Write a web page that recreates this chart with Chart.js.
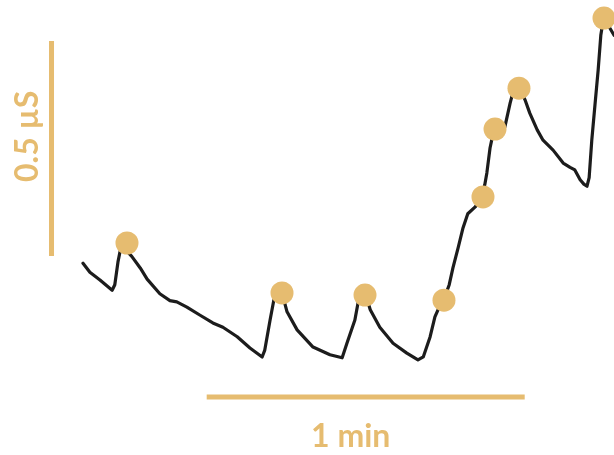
<!DOCTYPE html>
<html>
<head>
<meta charset="utf-8">
<script src="https://cdn.jsdelivr.net/npm/chart.js@4.4.1/dist/chart.umd.min.js"></script>
<style>
  html, body { margin: 0; padding: 0; background: #ffffff; }
  #wrap { width: 614px; height: 455px; }
</style>
</head>
<body>
<div id="wrap"><canvas id="scr" width="614" height="455"></canvas></div>
<script>
// Skin conductance trace: time (s) and conductance (µS)
const traceTime = [0.0, 1.3, 3.2, 5.5, 6.0, 6.6, 7.2, 7.7, 9.2, 10.8, 12.1, 14.5, 16.4, 17.7, 19.6, 22.1, 24.5, 26.4, 29.1, 31.5,
  33.8, 34.3, 35.3, 36.0, 36.8, 37.7, 38.5, 40.4, 43.4, 46.6, 48.9, 49.8, 51.3, 51.9, 52.6, 53.4, 54.2, 56.0, 58.5, 61.1,
  63.2, 64.2, 65.5, 66.4, 67.4, 68.1, 69.1, 69.8, 70.8, 71.7, 72.6, 74.0, 75.1, 75.8, 76.2, 76.8, 77.4, 77.9, 78.9, 79.6,
  80.6, 81.1, 81.9, 82.6, 83.4, 84.3, 85.7, 86.8, 88.7, 90.6, 91.9, 92.8, 93.8, 94.5, 95.1, 95.5, 96.0, 96.6, 97.2, 97.7,
  98.1, 98.7, 99.4, 100.2];
const traceUS = [2.446, 2.425, 2.407, 2.383, 2.396, 2.449, 2.486, 2.482, 2.462, 2.435, 2.409, 2.375, 2.359, 2.356, 2.344, 2.325, 2.307, 2.297, 2.275, 2.249,
  2.228, 2.244, 2.314, 2.360, 2.375, 2.370, 2.333, 2.291, 2.251, 2.233, 2.226, 2.260, 2.314, 2.354, 2.372, 2.370, 2.338, 2.297, 2.260, 2.237,
  2.221, 2.228, 2.275, 2.321, 2.349, 2.362, 2.396, 2.435, 2.483, 2.528, 2.561, 2.577, 2.593, 2.628, 2.656, 2.714, 2.749, 2.761, 2.756, 2.763,
  2.819, 2.842, 2.856, 2.849, 2.826, 2.795, 2.756, 2.732, 2.709, 2.679, 2.669, 2.663, 2.640, 2.630, 2.625, 2.645, 2.732, 2.814, 2.895, 2.976,
  3.007, 3.012, 2.993, 2.976];

// Detected response peaks
const peakTime = [8.3, 37.55, 53.21, 68.11, 75.47, 77.74, 82.26, 98.3];
const peakUS = [2.493, 2.377, 2.372, 2.360, 2.600, 2.758, 2.853, 3.016];

// Scale bars
const ampBarTime = [-5.94, -5.94];
const ampBarUS = [2.463, 2.963];
const timeBarTime = [23.34, 83.34];
const timeBarUS = [2.135, 2.135];
const ampLabel = '0.5 µS';
const timeLabel = '1 min';

const GOLD = '#E6BC70';

const toXY = (xs, ys) => xs.map((x, i) => ({ x: x, y: ys[i] }));

// Writes the scale-bar captions next to their bars
const scaleBarLabels = {
  id: 'scaleBarLabels',
  afterDatasetsDraw(chart) {
    const { ctx, scales: { x, y } } = chart;
    ctx.save();
    ctx.fillStyle = GOLD;
    ctx.font = 'bold 32px Lato, "Open Sans", sans-serif';
    ctx.textAlign = 'center';

    // vertical caption, reads bottom to top
    const ax = x.getPixelForValue(ampBarTime[0]);
    const ay = (y.getPixelForValue(ampBarUS[0]) + y.getPixelForValue(ampBarUS[1])) / 2;
    ctx.save();
    ctx.translate(ax - 14, ay - 12);
    ctx.rotate(-Math.PI / 2);
    ctx.textBaseline = 'alphabetic';
    ctx.fillText(ampLabel, 0, 0);
    ctx.restore();

    // horizontal caption under the time bar
    const tx = (x.getPixelForValue(timeBarTime[0]) + x.getPixelForValue(timeBarTime[1])) / 2;
    const ty = y.getPixelForValue(timeBarUS[0]);
    ctx.textBaseline = 'alphabetic';
    ctx.fillText(timeLabel, tx - 15, ty + 50);
    ctx.restore();
  }
};

new Chart(document.getElementById('scr'), {
  type: 'scatter',
  data: {
    datasets: [
      {
        label: 'peaks',
        data: toXY(peakTime, peakUS),
        pointRadius: 11.5,
        pointHoverRadius: 11.5,
        pointBackgroundColor: GOLD,
        pointBorderWidth: 0,
        showLine: false,
        clip: false,
        order: 0
      },
      {
        label: 'conductance',
        data: toXY(traceTime, traceUS),
        showLine: true,
        borderColor: '#1c1c1c',
        borderWidth: 3.2,
        borderJoinStyle: 'round',
        borderCapStyle: 'round',
        pointRadius: 0,
        tension: 0,
        order: 2
      },
      {
        label: 'amplitude bar',
        data: toXY(ampBarTime, ampBarUS),
        showLine: true,
        borderColor: GOLD,
        borderWidth: 5,
        pointRadius: 0,
        order: 3
      },
      {
        label: 'time bar',
        data: toXY(timeBarTime, timeBarUS),
        showLine: true,
        borderColor: GOLD,
        borderWidth: 5,
        pointRadius: 0,
        order: 3
      }
    ]
  },
  options: {
    responsive: false,
    devicePixelRatio: 1,
    animation: false,
    layout: { padding: 0, autoPadding: false },
    plugins: { legend: { display: false }, tooltip: { enabled: false } },
    events: [],
    scales: {
      x: { type: 'linear', min: -15.66, max: 100.19, display: false },
      y: { type: 'linear', min: 2.0, max: 3.0581, display: false }
    }
  },
  plugins: [scaleBarLabels]
});
</script>
</body>
</html>
